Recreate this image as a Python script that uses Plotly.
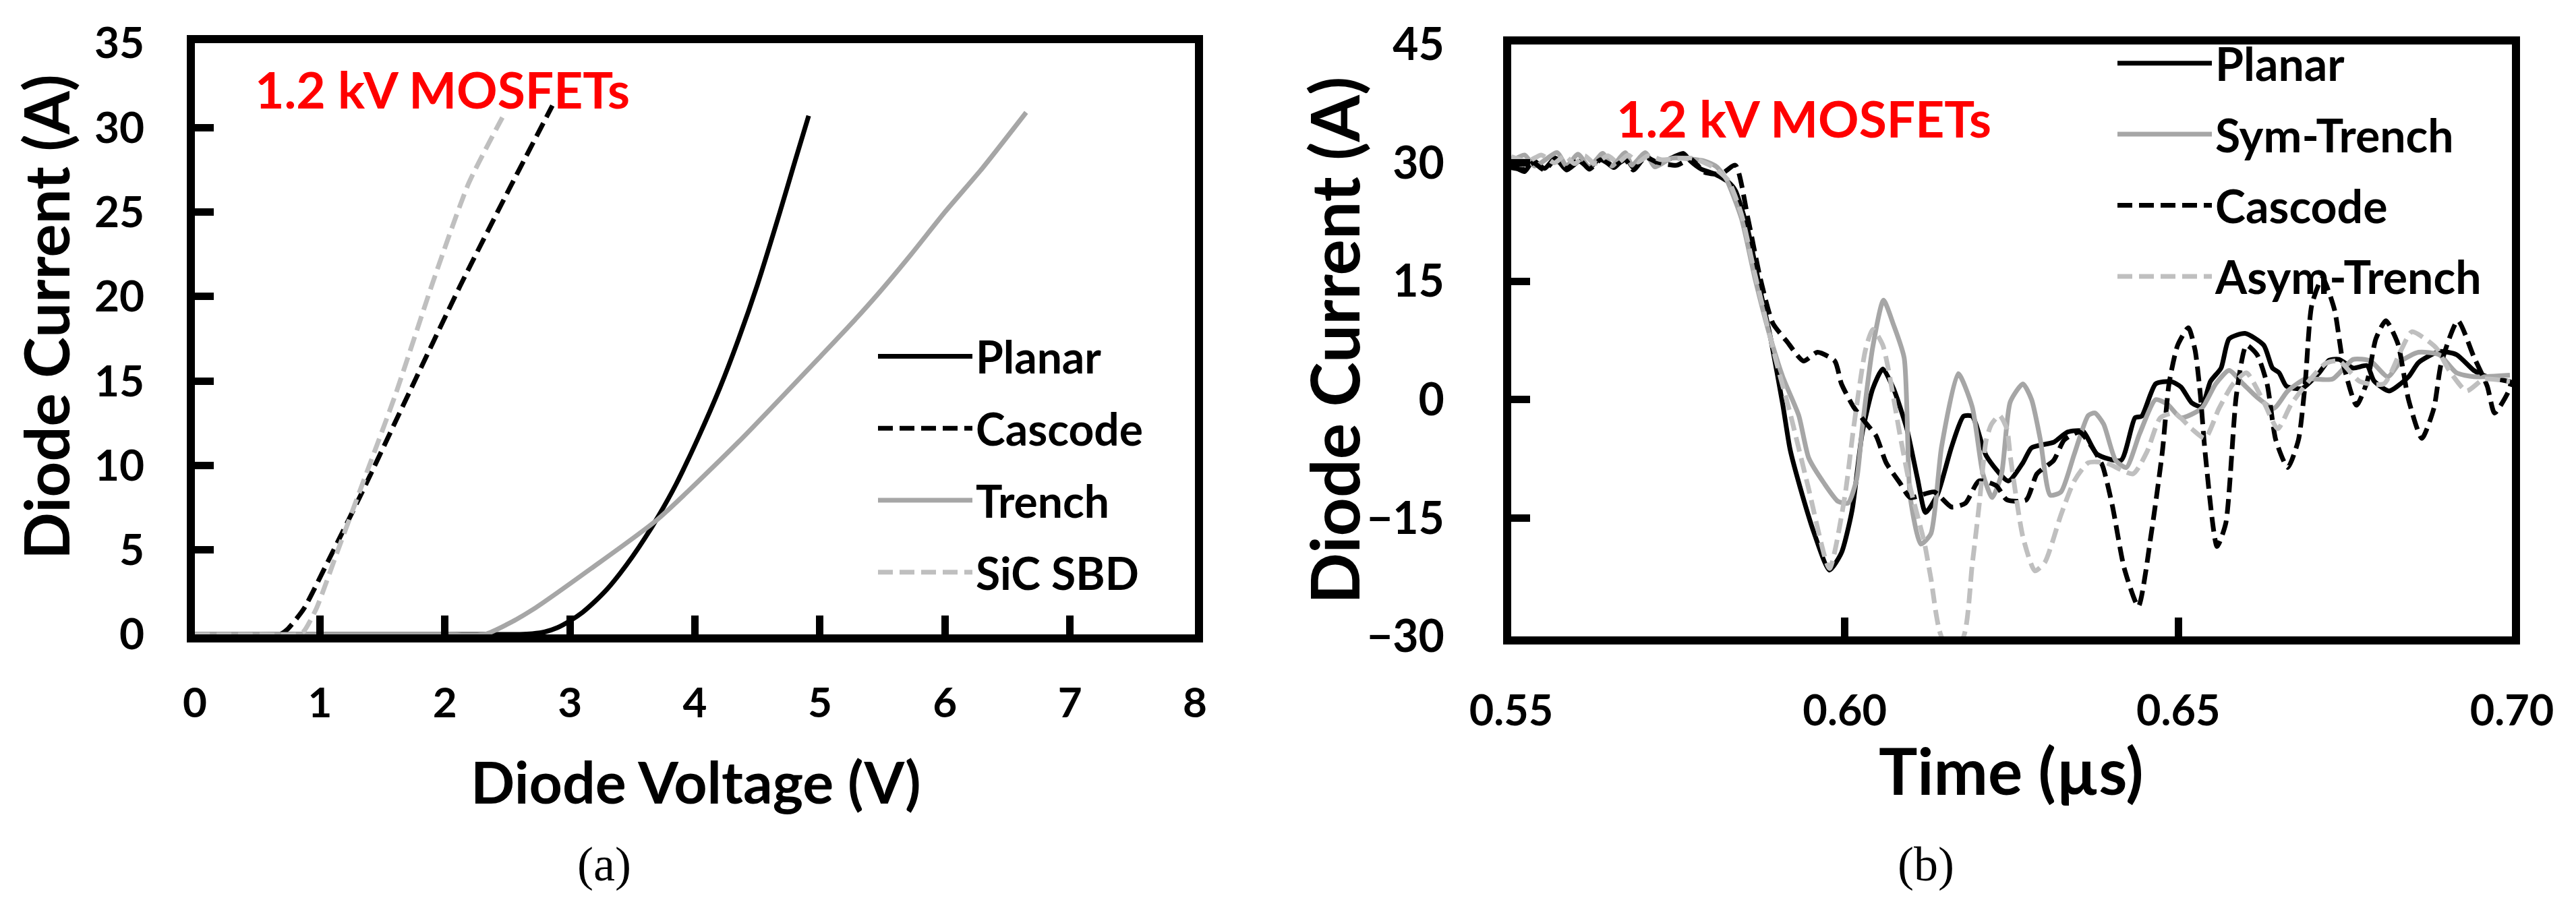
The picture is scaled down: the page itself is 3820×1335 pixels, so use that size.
import plotly.graph_objects as go

W, H = 3820, 1335
PAGE_MARGIN = 8  # browser body margin, page is offset by this

# === (a) forward characteristics ===
planar_v = [0, 1, 2, 2.6, 2.7, 2.8, 2.9, 3.0, 3.1, 3.2, 3.3, 3.4, 3.5, 3.6, 3.7, 3.85, 4.03, 4.2, 4.35, 4.5, 4.68, 4.8, 4.91]
planar_i = [0, 0, 0, 0, 0.04, 0.15, 0.4, 0.8, 1.3, 1.95, 2.7, 3.6, 4.6, 5.7, 6.9, 8.9, 11.7, 14.6, 17.5, 20.7, 25, 28, 30.7]
cascode_v = [0, 0.4, 0.68, 0.74, 0.87, 1.07, 1.33, 1.72, 2.12, 2.51, 2.86]
cascode_i = [0, 0, 0, 0.3, 1.5, 4.4, 8.3, 14.4, 20.6, 26.3, 31.3]
trench_v = [0, 1, 2, 2.32, 2.5, 2.71, 3.17, 3.7, 4.35, 5.01, 5.24, 5.47, 5.73, 6.0, 6.3, 6.65]
trench_i = [0, 0, 0, 0, 0.6, 1.5, 3.9, 6.8, 11.4, 16.5, 18.3, 20.2, 22.5, 25, 27.6, 30.9]
sbd_v = [0, 0.4, 0.82, 0.87, 0.97, 1.14, 1.33, 1.6, 1.92, 2.19, 2.46]
sbd_i = [0, 0, 0, 0.17, 1.5, 4.9, 8.7, 14.1, 21.2, 26.7, 30.6]

# === (b) reverse recovery ===
planar_t = [0.55, 0.552, 0.5533, 0.555, 0.5566, 0.5583, 0.5602, 0.5617, 0.5634, 0.5654, 0.5671, 0.5683, 0.5701, 0.5718,
            0.5735, 0.5758, 0.5769, 0.5785, 0.5805, 0.5825, 0.5836, 0.5855, 0.5873, 0.5889, 0.5907, 0.5918, 0.5933,
            0.5954, 0.5977, 0.5995, 0.6011, 0.6026,
            0.6042, 0.6057, 0.6073, 0.6093, 0.6109, 0.6121, 0.6139, 0.616, 0.6178, 0.6191, 0.6212, 0.6245, 0.6267,
            0.628, 0.6313, 0.6334, 0.6357, 0.6378, 0.6414, 0.6435, 0.6445, 0.6466, 0.6489, 0.6504, 0.652, 0.6535,
            0.6548, 0.6564, 0.6576, 0.66, 0.6628, 0.6641, 0.6651, 0.6662, 0.6685, 0.6711, 0.6726, 0.6741, 0.6762,
            0.6783, 0.6793, 0.6816, 0.6845, 0.686, 0.6891, 0.6917, 0.6943, 0.6963, 0.6997]
planar_a = [29.8, 28.9, 30.3, 29.3, 30.6, 29.1, 30.2, 29.4, 30.6, 29.4, 30.7, 29.4, 30.9, 29.9,
            30.4, 31.2, 30.2, 29.2, 28.6, 27.6, 26.5, 21.4, 14, 7.7, -0.6, -6.3, -11.1,
            -16.9, -21.6, -19.4, -14, -4.3,
            1.4, 3.9, 1.4, -3.7, -10, -14.3, -12, -6, -2.1, -2.1, -7.1, -10.3, -8,
            -6.1, -5.4, -4.1, -4, -6.9, -7.7, -2.3, -2.1, 2, 2.3, 1.6, -0.4, -0.9,
            2.3, 4, 7.7, 8.4, 6.9, 4, 3.4, 1.7, 1.4, 3.4, 5, 5.1, 4,
            4.3, 2.4, 1.1, 2.9, 4.7, 6.1, 5.7, 3.7, 2.9, 2.3]

sym_t = [0.55, 0.552, 0.5535, 0.5569, 0.5583, 0.56, 0.5617, 0.5637, 0.5651, 0.5671, 0.5681, 0.5701, 0.5715, 0.5741,
         0.5791, 0.5808, 0.5822, 0.5845, 0.5865, 0.5889,
         0.5907, 0.5931, 0.5946, 0.5969, 0.599, 0.6005, 0.6018, 0.6026, 0.6042, 0.6058, 0.6073, 0.6089, 0.6098,
         0.6114, 0.6129, 0.6145, 0.617, 0.6191, 0.6207, 0.6221, 0.6235, 0.6248, 0.6267, 0.628, 0.6293, 0.6308,
         0.6324, 0.6344, 0.6365, 0.6375, 0.6388, 0.6406, 0.6422, 0.6442, 0.6466, 0.6484, 0.6504, 0.6535, 0.6556,
         0.6576, 0.6597, 0.6618, 0.6643, 0.6664, 0.669, 0.6731, 0.6762, 0.6788, 0.6814, 0.6834, 0.686, 0.6891,
         0.6917, 0.6943, 0.6997]
sym_a = [30.2, 31.0, 29.6, 31.3, 29.6, 31.1, 29.5, 31.2, 29.6, 31.3, 29.7, 31.3, 29.5, 30.6,
         30.2, 29.5, 28, 23, 15.5, 7.7,
         2.9, -2, -7.4, -10.6, -12.9, -13.1, -10, -3.7, 6.7, 12.6, 9.5, 5.3, -12.3,
         -18.3, -17, -6, 3.3, -0.9, -9.4, -12.4, -9.4, -0.3, 2, 0, -5, -12.1,
         -11.7, -6.9, -2, -1.7, -3.1, -7.7, -8.6, -4.3, 0, -0.6, -2.3, -1.1, 2,
         3.7, 2, 0.3, -1.1, 1.1, 2.6, 2.6, 5.1, 4.9, 2.9, 4.9, 6, 5.7,
         3.4, 2.9, 3.1]

cas_t = [0.55, 0.552, 0.5533, 0.555, 0.5566, 0.5583, 0.5602, 0.5617, 0.5634, 0.5654, 0.5671, 0.5683, 0.5701, 0.5718,
         0.5748, 0.5769, 0.579, 0.5815, 0.5836, 0.5855, 0.5873,
         0.5892, 0.5913, 0.5938, 0.5959, 0.5985, 0.5995, 0.6013, 0.6031, 0.6047, 0.6062, 0.6083, 0.6098, 0.6134,
         0.616, 0.6181, 0.6201, 0.6227, 0.6243, 0.6272, 0.6288, 0.6313, 0.6329, 0.6352, 0.6368, 0.6386, 0.6401,
         0.6419, 0.644, 0.646, 0.6476, 0.6486, 0.6499, 0.6515, 0.6525, 0.6533, 0.654, 0.6558, 0.6571, 0.6587,
         0.6602, 0.6618, 0.6633, 0.6646, 0.6664, 0.668, 0.669, 0.67, 0.6716, 0.6734, 0.6747, 0.6767, 0.6783,
         0.6796, 0.6811, 0.6829, 0.6845, 0.6865, 0.6883, 0.6894, 0.6919, 0.6943, 0.6963, 0.6974, 0.6994, 0.7]
cas_a = [29.4, 29.2, 30.0, 29.1, 30.4, 29.3, 30.4, 29.2, 30.4, 29.6, 30.4, 29.1, 30.7, 30.1,
         29.7, 30.5, 28.8, 28.6, 29.7, 22.9, 15.5,
         9.7, 7.4, 4.9, 6, 4.9, 2, -0.9, -2.9, -4.6, -8, -10.6, -12.4, -11.7,
         -13.6, -13.1, -10.3, -10.9, -12.7, -12.7, -9.4, -7.7, -5.1, -4.1, -5.7, -8.3, -13.4,
         -21.4, -26.2, -16.6, -6.6, 2, 6.9, 9.1, 6.3, 0.6, -6.6, -18.6, -15.7, 0.6,
         6.9, 5.7, 2, -5.1, -8.6, -5.1, 2, 12, 15.4, 11.4, 4.6, -0.7, 2.3,
         7.7, 10, 7.1, 0, -4.9, -1.1, 4.6, 10, 5.4, 1.7, -1.7, 0.9, 2.5]

asym_t = [0.55, 0.5525, 0.5545, 0.5565, 0.558, 0.5595, 0.561, 0.5625, 0.5645, 0.566, 0.5675, 0.569, 0.5705, 0.5725,
          0.577, 0.58, 0.5825, 0.5845, 0.5865, 0.5897,
          0.5918, 0.5945, 0.5977, 0.6, 0.6013, 0.6031, 0.6042, 0.6057, 0.6083, 0.6098, 0.6119, 0.6129, 0.6147, 0.6176,
          0.6191, 0.6201, 0.6212, 0.622, 0.6232, 0.6243, 0.6248, 0.6267, 0.6285, 0.63, 0.6324, 0.6344, 0.6365,
          0.6391, 0.6432, 0.6453, 0.6473, 0.6494, 0.652, 0.654, 0.6561, 0.6582, 0.6602, 0.6628, 0.6649, 0.6669,
          0.6695, 0.6721, 0.6741, 0.6772, 0.6808, 0.6834, 0.685, 0.6886, 0.6906, 0.6932, 0.6958, 0.6997]
asym_a = [30.8, 30.2, 31.0, 30.0, 30.9, 29.9, 30.9, 29.9, 30.9, 30.0, 31.0, 30.1, 30.9, 30.4,
          30.6, 29.6, 27.8, 23.5, 16, 4.9,
          -1.7, -11, -21.4, -12.3, -3.7, 6.3, 8.9, 6.9, -4.6, -11.1, -18, -22.6, -30.3, -30.3,
          -20.9, -13.7, -5.1, -3.1, -2, -3.7, -7.1, -17.4, -21.7, -20.6, -14.6, -10.3, -8,
          -8, -9.4, -6.6, -2.3, -1.7, -3.7, -4.9, -1.1, 2, 3.4, -0.3, -3.7, -0.6,
          2.3, 4.6, 4.9, 2.3, 2, 6.3, 8.6, 6.6, 3.7, 1.1, 2.6, 2.3]

BLACK = "#000000"
GREY = "#a6a6a6"
LIGHT = "#bfbfbf"
DASH = "22px,10px"
FONT = "Lato"


def px_x(p):
    return (p - PAGE_MARGIN) / W


def px_y(p):
    return 1 - (p - PAGE_MARGIN) / H


def add_line(x, y, name, color, dash, xa, ya, legend):
    fig.add_trace(go.Scatter(
        x=x, y=y, mode="lines", name=name, xaxis=xa, yaxis=ya,
        legend=legend, legendgroup=legend + name,
        line=dict(color=color, width=7, dash=dash, shape="spline", smoothing=0.6),
        hoverinfo="skip",
    ))


fig = go.Figure()

add_line(planar_v, planar_i, "Planar", BLACK, "solid", "x", "y", "legend")
add_line(cascode_v, cascode_i, "Cascode", BLACK, DASH, "x", "y", "legend")
add_line(trench_v, trench_i, "Trench", GREY, "solid", "x", "y", "legend")
add_line(sbd_v, sbd_i, "SiC SBD", LIGHT, DASH, "x", "y", "legend")

add_line(planar_t, planar_a, "Planar", BLACK, "solid", "x2", "y2", "legend2")
add_line(sym_t, sym_a, "Sym-Trench", GREY, "solid", "x2", "y2", "legend2")
add_line(cas_t, cas_a, "Cascode", BLACK, DASH, "x2", "y2", "legend2")
add_line(asym_t, asym_a, "Asym-Trench", LIGHT, DASH, "x2", "y2", "legend2")


def axis_style(size, standoff):
    return dict(
        showgrid=False, zeroline=False, showline=True, linecolor=BLACK, linewidth=12, mirror=True,
        ticks="inside", ticklen=28, tickwidth=11, tickcolor=BLACK, ticklabelstandoff=standoff,
        tickfont=dict(family=FONT, size=size, color=BLACK, weight=700),
    )


def legend_style(x, y, size, gap):
    return dict(
        x=x, y=y, xanchor="left", yanchor="top", bgcolor="rgba(0,0,0,0)", borderwidth=0,
        itemwidth=140, tracegroupgap=gap, itemclick=False, itemdoubleclick=False,
        font=dict(family=FONT, size=size, color=BLACK, weight=700),
    )


def label(text, x, y, size, color=BLACK, angle=0, family=FONT, weight=700):
    return dict(
        text=text, x=px_x(x), y=px_y(y), xref="paper", yref="paper", showarrow=False,
        xanchor="center", yanchor="middle", textangle=angle,
        font=dict(family=family, size=size, color=color, weight=weight),
    )


fig.update_layout(
    width=W, height=H, autosize=False,
    margin=dict(l=0, r=0, t=0, b=0, autoexpand=False),
    paper_bgcolor="white", plot_bgcolor="white",
    showlegend=True,
    xaxis=dict(domain=[px_x(289), px_x(1772)], range=[0, 8], dtick=1, anchor="y", **axis_style(62, 37)),
    yaxis=dict(domain=[px_y(941), px_y(64)], range=[0, 35], dtick=5, anchor="x", **axis_style(64, 50)),
    xaxis2=dict(domain=[px_x(2241), px_x(3725)], range=[0.55, 0.70], dtick=0.05, tickformat=".2f", anchor="y2",
                **axis_style(63, 44)),
    yaxis2=dict(domain=[px_y(944), px_y(66)], range=[-30, 45], tick0=-30, dtick=15, anchor="x2", **axis_style(66, 74)),
    legend=legend_style(px_x(1297), px_y(479), 66, 18),
    legend2=legend_style(px_x(3135), px_y(43), 68, 14),
    annotations=[
        label("1.2 kV MOSFETs", 656, 132, 75, color="#ff0000"),
        label("1.2 kV MOSFETs", 2675, 175, 75, color="#ff0000"),
        label("Diode Voltage (V)", 1032, 1158, 86),
        label("Time (µs)", 2982, 1141, 96),
        label("Diode Current (A)", 67, 470, 92, angle=-90),
        label("Diode Current (A)", 1977, 505, 100, angle=-90),
        label("(a)", 896, 1282, 72, family="Liberation Serif", weight=400),
        label("(b)", 2856, 1282, 72, family="Liberation Serif", weight=400),
    ],
)

fig.write_html("out.html")
